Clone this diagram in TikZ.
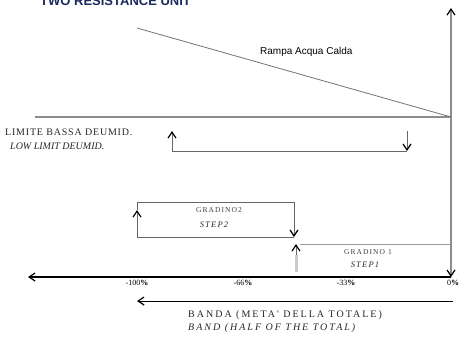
\documentclass[tikz,border=0pt]{standalone}
\usepackage{fontspec}
\setmainfont{Liberation Serif}
\newfontfamily\sansf{Liberation Sans}
\newfontfamily\widef[LetterSpace=20]{Liberation Serif}
\newfontfamily\midf[LetterSpace=8]{Liberation Serif}
\newfontfamily\smf[LetterSpace=14]{Liberation Serif}
\usetikzlibrary{arrows.meta}
\definecolor{navy}{HTML}{1B2A5C}
\begin{document}
\begin{tikzpicture}[x=1pt,y=-1pt,
  >={Straight Barb[length=6pt,width=8pt,line width=1.2pt,color=black]},
  grayline/.style={draw=black!45,line width=1.5pt},
  thinline/.style={draw=black!60,line width=0.9pt},
  lbl/.style={inner sep=0pt,text=black!85,font=\midf\fontsize{10}{11}\selectfont},
  ilbl/.style={inner sep=0pt,text=black!85,font=\fontsize{10}{11}\selectfont\itshape},
  wlbl/.style={inner sep=0pt,text=black!85,font=\widef\fontsize{10}{11}\selectfont},
  wilbl/.style={inner sep=0pt,text=black!85,font=\widef\fontsize{10}{11}\selectfont\itshape},
  small/.style={inner sep=0pt,text=black!75,font=\smf\fontsize{7.5}{8}\selectfont},
  ismall/.style={inner sep=0pt,text=black!85,font=\smf\fontsize{8.5}{9}\selectfont\itshape},
  tick/.style={inner sep=0pt,font=\fontsize{8}{9}\selectfont}]
\useasboundingbox (0,0) rectangle (459,338);
% title
\node[anchor=base west,inner sep=0pt,font=\sansf\bfseries\fontsize{13}{15}\selectfont,text=navy] (title) at (40,5) {TWO RESISTANCE UNIT};
% coordinates
\coordinate (vtop) at (451,8);
\coordinate (vbot) at (451,277);
\coordinate (hl) at (35,117);
\coordinate (hr) at (451,117);
\coordinate (rs) at (137,28);
\coordinate (aL) at (451,277);
\coordinate (aR) at (28,277);
\coordinate (bR) at (453,301);
\coordinate (bL) at (137,301);
% vertical axis
\draw[grayline,<->] (vbot) -- (vtop);
% upper horizontal line and ramp
\draw[grayline] (hl) -- (hr);
\draw[draw=black!55,line width=0.8pt] (rs) -- (hr);
\node[inner sep=0pt,anchor=west,font=\sansf\fontsize{10}{11}\selectfont] (ramp) at (260,52) {Rampa Acqua Calda};
% low limit dehumid box
\coordinate (l1) at (172,151);
\coordinate (l2) at (172,131);
\coordinate (r1) at (407,131);
\coordinate (r2) at (407,151);
\draw[thinline] (l1) -- (r2);
\draw[thinline,->] (l1) -- (l2);
\draw[thinline,->] (r1) -- (r2);
\node[lbl,anchor=west] (lim) at (5,132) {LIMITE BASSA DEUMID.};
\node[ilbl,anchor=west] (low) at (10,146) {LOW LIMIT DEUMID.};
% step 2 box
\coordinate (s2a) at (137,202);
\coordinate (s2b) at (294,237);
\coordinate (s2c) at (137,237);
\coordinate (s2d) at (137,210);
\coordinate (s2e) at (294,202);
\draw[thinline] (s2d) -- (s2a) -- (s2e);
\draw[thinline] (s2c) -- (s2b);
\draw[thinline,->] (s2c) -- (s2d);
\draw[thinline,->] (s2e) -- (s2b);
\node[small] (g2) at (219,210) {GRADINO2};
\node[ismall] (st2) at (214,225) {STEP2};
% step 1
\coordinate (s1a) at (296,272);
\coordinate (s1b) at (296,255);
\coordinate (s1c) at (296,244);
\coordinate (s1d) at (300,244);
\coordinate (s1e) at (451,244);
\draw[draw=black!20,line width=3pt] (s1a) -- (s1b);
\draw[thinline,->] (s1b) -- (s1c);
\draw[draw=black!40,line width=0.8pt] (s1d) -- (s1e);
\node[small] (g1) at (368,252) {GRADINO 1};
\node[ismall] (st1) at (365,265) {STEP1};
% axis
\draw[line width=1.3pt,->] (aL) -- (aR);
\node[tick] (t100) at (137,283) {-100\textbf{\%}};
\node[tick] (t66) at (243,283) {-66\textbf{\%}};
\node[tick] (t33) at (346,283) {-33\textbf{\%}};
\node[tick,anchor=west] (t0) at (447,283) {0\textbf{\%}};
% band
\draw[line width=1pt,->] (bR) -- (bL);
\node[wlbl,anchor=west] (banda) at (188,315) {BANDA (META' DELLA TOTALE)};
\node[wilbl,anchor=west] (band) at (188,328) {BAND (HALF OF THE TOTAL)};
\end{tikzpicture}
\end{document}
